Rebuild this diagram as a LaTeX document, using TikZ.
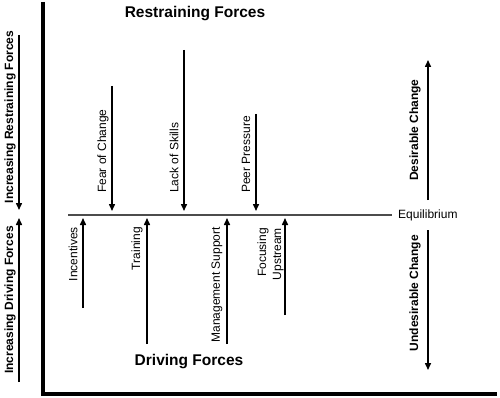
\documentclass[tikz,border=0pt]{standalone}
\usepackage{fontspec}
\setmainfont{Liberation Sans}
\usetikzlibrary{arrows.meta}
\begin{document}
\begin{tikzpicture}[x=1pt,y=-1pt,
  force/.style={line width=1.5pt,-{Triangle[length=7pt,width=6pt]}},
  axis/.style={line width=3.5pt},
  lbl/.style={inner sep=0pt,rotate=90,font=\fontsize{12}{15}\selectfont},
  blbl/.style={inner sep=0pt,rotate=90,font=\fontsize{12}{15}\selectfont\bfseries},
  title/.style={inner sep=0pt,font=\fontsize{15.5}{18}\selectfont\bfseries}]
\useasboundingbox (0,0) rectangle (500,398);
% axes
\coordinate (axtop) at (43,2);
\coordinate (axcorner) at (43,394);
\coordinate (axright) at (497,394);
\draw[axis,line join=miter] (axtop) -- (axcorner) -- (axright);
% titles
\node[title] (rf) at (195,14) {Restraining Forces};
\node[title] (df) at (189,362) {Driving Forces};
% equilibrium
\coordinate (eqL) at (68,215);
\coordinate (eqR) at (392,215);
\draw[line width=2pt,black!70] (eqL) -- (eqR);
\node[inner sep=0pt,anchor=west,font=\fontsize{12}{15}\selectfont] (eq) at (398,215) {Equilibrium};
% restraining forces
\coordinate (f1s) at (112,86);  \coordinate (f1e) at (112,211);
\coordinate (f2s) at (184,50);  \coordinate (f2e) at (184,211);
\coordinate (f3s) at (256,114); \coordinate (f3e) at (256,211);
\draw[force] (f1s) -- (f1e);
\draw[force] (f2s) -- (f2e);
\draw[force] (f3s) -- (f3e);
\node[lbl,anchor=west] (fear) at (103,193) {Fear of Change};
\node[lbl,anchor=west] (lack) at (174,193) {Lack of Skills};
\node[lbl,anchor=west] (peer) at (246,193) {Peer Pressure};
% driving forces
\coordinate (d1s) at (83,308);  \coordinate (d1e) at (83,218);
\coordinate (d2s) at (147,344); \coordinate (d2e) at (147,218);
\coordinate (d3s) at (227,344); \coordinate (d3e) at (227,218);
\coordinate (d4s) at (285,315); \coordinate (d4e) at (285,218);
\draw[force] (d1s) -- (d1e);
\draw[force] (d2s) -- (d2e);
\draw[force] (d3s) -- (d3e);
\draw[force] (d4s) -- (d4e);
\node[lbl,anchor=east] (inc) at (73,227) {Incentives};
\node[lbl,anchor=east] (tra) at (137,227) {Training};
\node[lbl,anchor=east] (man) at (217,227) {Management Support};
\node[lbl,anchor=east,align=right] (foc) at (270.5,228) {Focusing\\Upstream};
% right side
\coordinate (dcs) at (428,200); \coordinate (dce) at (428,60);
\coordinate (ucs) at (428,230); \coordinate (uce) at (428,370);
\draw[force] (dcs) -- (dce);
\draw[force] (ucs) -- (uce);
\node[blbl] (des) at (415,130) {Desirable Change};
\node[blbl] (und) at (415,293) {Undesirable Change};
% left side
\coordinate (lrs) at (19,35);  \coordinate (lre) at (19,210);
\coordinate (lds) at (19,382); \coordinate (lde) at (19,218);
\draw[force] (lrs) -- (lre);
\draw[force] (lds) -- (lde);
\node[blbl] (irf) at (10,117) {Increasing Restraining Forces};
\node[blbl] (idf) at (10,300) {Increasing Driving Forces};
\end{tikzpicture}
\end{document}
